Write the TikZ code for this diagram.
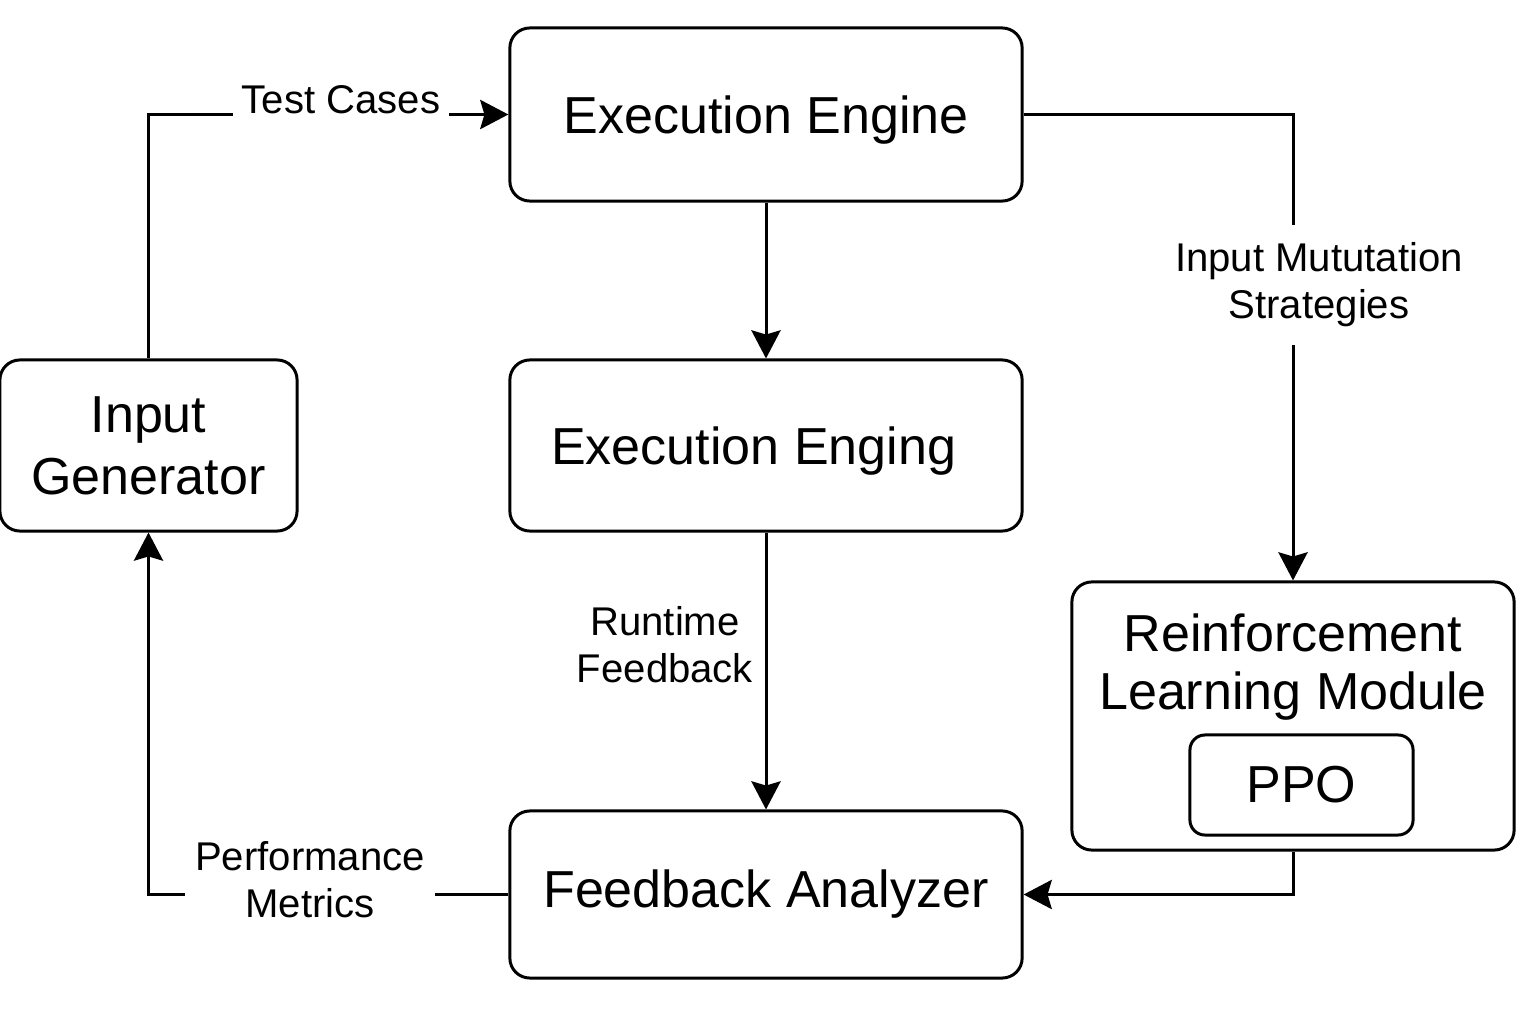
\documentclass[tikz,border=0pt]{standalone}
\usepackage{fontspec}
\setmainfont{Liberation Sans}
\usetikzlibrary{arrows.meta}
\begin{document}
\begin{tikzpicture}[x=0.01cm,y=-0.01cm,
  box/.style={draw,line width=0.85pt,rounded corners=0.2cm,align=center,inner sep=0pt,
    font=\fontsize{14.8pt}{17.6pt}\selectfont},
  conn/.style={draw,line width=0.85pt,-{Stealth[length=8pt,width=8.3pt,inset=1.2pt]}},
  lbl/.style={fill=white,align=center,inner xsep=2.5pt,inner ysep=4pt,
    font=\fontsize{11.4pt}{13.4pt}\selectfont}]
\useasboundingbox (0,0) rectangle (1536,1024);
% boxes
\node[box,text depth=0pt,minimum width=5.12cm,minimum height=1.73cm] (ee) at (766,114.5) {Execution Engine};
\node[box,text depth=0pt,minimum width=5.12cm,minimum height=1.71cm] (me) at (766,445.5) {Execution Enging\hspace*{7pt}};
\node[box,minimum width=5.12cm,minimum height=1.67cm] (fa) at (766,894.5) {\raisebox{-0.8pt}{Feedback Analyzer}};
\node[box,minimum width=2.97cm,minimum height=1.71cm] (ig) at (148.5,445.5) {\raisebox{-1pt}{Input}\\\raisebox{-1pt}{Generator}};
\node[box,minimum width=4.42cm,minimum height=2.68cm] (rl) at (1293,716) {};
\node[align=center,font=\fontsize{14.8pt}{16.5pt}\selectfont] (rlt) at (1293,667) {Reinforcement\\Learning Module};
\node[box,minimum width=2.23cm,minimum height=1.0cm,rounded corners=0.15cm] (ppo) at (1301.5,785) {PPO};
% connectors
\draw[conn] (ig.north) |- (ee.west);
\draw[conn] (ee.south) -- (me.north);
\draw[conn] (me.south) -- (fa.north);
\draw[conn] (ee.east) -| (rl.north);
\draw[conn] (rl.south) |- (fa.east);
\draw[conn] (fa.west) -| (ig.south);
% labels
\node[lbl] (ltc) at (341,100) {Test Cases};
\node[lbl,inner ysep=5pt] (lims) at (1319,285) {Input Mututation\\Strategies};
\node[lbl,fill=none] (lrf) at (665,645) {Runtime\\Feedback};
\node[lbl,inner xsep=3pt] (lpm) at (310,879.5) {Performance\\Metrics};
\end{tikzpicture}
\end{document}
